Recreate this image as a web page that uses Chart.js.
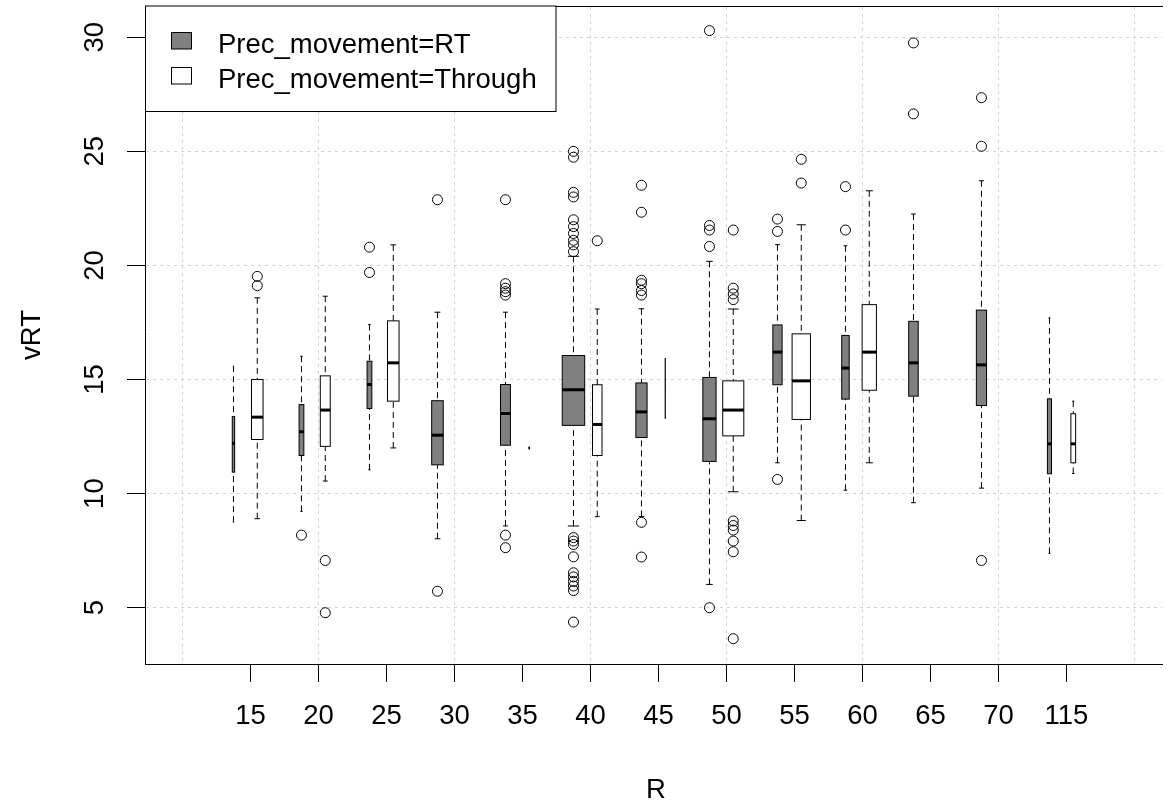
<!DOCTYPE html>
<html>
<head>
<meta charset="utf-8">
<script src="https://cdn.jsdelivr.net/npm/chart.js@4.4.1/dist/chart.umd.min.js"></script>
<style>
    html, body { margin: 0; padding: 0; background: #fff; overflow: hidden; }
    #wrap { width: 1168px; height: 801px; }
</style>
</head>
<body>
<div id="wrap"><canvas id="graph" width="1168" height="801"></canvas></div>
<script>
// groups on the x axis (R values)
var rLabels = ["15", "20", "25", "30", "35", "40", "45", "50", "55", "60", "65", "70", "115"]
var seriesNames = ["Prec_movement=RT", "Prec_movement=Through"]
var yTicks = [5, 10, 15, 20, 25, 30]
var gridX = [0, 2, 4, 6, 8, 10, 12, 14]

// Prec_movement = RT
var rtLow = [8.75, 9.22, 11.04, 8.02, 8.58, 8.58, 9.0, 6.02, 11.35, 10.15, 9.6, 10.24, 7.38]
var rtQ1 = [10.94, 11.67, 13.73, 11.26, 12.12, 12.99, 12.46, 11.41, 14.77, 14.14, 14.27, 13.86, 10.87]
var rtMedian = [12.2, 12.71, 14.78, 12.56, 13.51, 14.55, 13.58, 13.28, 16.2, 15.5, 15.73, 15.64, 12.18]
var rtQ3 = [13.38, 13.9, 15.8, 14.07, 14.78, 16.05, 14.85, 15.09, 17.39, 16.93, 17.55, 18.04, 14.15]
var rtHigh = [15.58, 16.02, 17.41, 17.95, 17.95, 20.4, 18.1, 20.18, 20.91, 20.86, 22.25, 23.71, 17.7]
var rtWidth = [0.035, 0.07, 0.07, 0.17, 0.146, 0.33, 0.165, 0.195, 0.136, 0.11, 0.14, 0.15, 0.06]
var rtOutliers = [
    [],
    [8.18],
    [20.8, 19.69],
    [22.88, 5.72],
    [22.88, 19.2, 19.0, 18.85, 18.7, 8.18, 7.63],
    [25.0, 24.74, 23.2, 23.0, 22.0, 21.7, 21.4, 21.1, 20.9, 20.6, 8.07, 7.92, 7.77, 7.23, 6.53, 6.35, 6.15, 5.95, 5.75, 4.37],
    [23.51, 22.33, 19.35, 19.2, 18.9, 18.7, 8.74, 7.22],
    [30.29, 21.75, 21.55, 20.83, 5.0],
    [22.03, 21.49, 10.62],
    [23.45, 21.55],
    [29.75, 26.64],
    [27.35, 25.22, 7.07],
    []
]

// Prec_movement = Through
var thLow = [8.9, 10.55, 12.0, null, 12.0, 8.99, 13.3, 10.08, 8.82, 11.35, null, null, 10.88]
var thQ1 = [12.37, 12.07, 14.05, null, 12.0, 11.67, 13.3, 12.53, 13.25, 14.53, null, null, 11.35]
var thMedian = [13.35, 13.66, 15.73, null, 12.0, 13.03, 14.6, 13.66, 14.94, 16.2, null, null, 12.18]
var thQ3 = [15.0, 15.16, 17.57, null, 12.0, 14.77, 15.92, 14.94, 17.0, 18.28, null, null, 13.5]
var thHigh = [18.58, 18.65, 20.9, null, 12.0, 18.09, 15.92, 18.09, 21.78, 23.27, null, null, 14.05]
var thWidth = [0.17, 0.146, 0.17, null, 0.02, 0.14, 0.003, 0.31, 0.27, 0.21, null, null, 0.07]
var thOutliers = [
    [19.52, 19.11],
    [7.07, 4.78],
    [],
    [],
    [],
    [21.08],
    [],
    [21.55, 19.0, 18.75, 18.5, 8.8, 8.6, 8.4, 7.92, 7.45, 3.64],
    [24.65, 23.61],
    [],
    [],
    [],
    []
]

var FONT = '"Liberation Sans", Arial, sans-serif'
var FSIZE = 27.5

var series = [
    { low: rtLow, q1: rtQ1, med: rtMedian, q3: rtQ3, high: rtHigh, width: rtWidth, offset: -0.25, fill: "#808080" },
    { low: thLow, q1: thQ1, med: thMedian, q3: thQ3, high: thHigh, width: thWidth, offset: 0.1, fill: "#ffffff" }
]

// turns the outlier lists into scatter points
function outlierPoints(list, offset) {
    var pts = []
    list.forEach(function (vals, i) {
        vals.forEach(function (v) { pts.push({ x: i + 1 + offset, y: v }) })
    })
    return pts
}

function line(ctx, x1, y1, x2, y2) {
    ctx.beginPath()
    ctx.moveTo(x1, y1)
    ctx.lineTo(x2, y2)
    ctx.stroke()
}

// no extra room for labels at the ends of the x axes
function noSidePadding(s) {
    s.paddingLeft = 0
    s.paddingRight = 0
}

// draws the boxes, whiskers and medians with the chart scales
var boxPlugin = {
    id: "rBoxes",
    beforeDatasetsDraw: function (chart) {
        var ctx = chart.ctx
        var xs = chart.scales.x
        var ys = chart.scales.y
        ctx.save()
        ctx.strokeStyle = "#000"
        series.forEach(function (s) {
            for (var i = 0; i < rLabels.length; i++) {
                if (s.med[i] == null) continue
                var pos = i + 1 + s.offset
                var w = s.width[i]
                var mid = xs.getPixelForValue(pos)
                var left = xs.getPixelForValue(pos - w / 2)
                var right = xs.getPixelForValue(pos + w / 2)
                var capL = xs.getPixelForValue(pos - w / 4)
                var capR = xs.getPixelForValue(pos + w / 4)
                var yLow = ys.getPixelForValue(s.low[i])
                var yQ1 = ys.getPixelForValue(s.q1[i])
                var yMed = ys.getPixelForValue(s.med[i])
                var yQ3 = ys.getPixelForValue(s.q3[i])
                var yHigh = ys.getPixelForValue(s.high[i])

                // whiskers
                ctx.lineWidth = 1
                ctx.setLineDash([6, 4])
                if (s.high[i] > s.q3[i]) line(ctx, mid, yHigh, mid, yQ3)
                if (s.low[i] < s.q1[i]) line(ctx, mid, yLow, mid, yQ1)
                ctx.setLineDash([])
                line(ctx, capL, yHigh, capR, yHigh)
                line(ctx, capL, yLow, capR, yLow)

                // box
                ctx.fillStyle = s.fill
                ctx.fillRect(left, yQ3, right - left, yQ1 - yQ3)
                ctx.strokeRect(left, yQ3, right - left, yQ1 - yQ3)

                // median
                ctx.lineWidth = 3
                line(ctx, left, yMed, right, yMed)
            }
        })
        ctx.restore()
    },
    afterDraw: function (chart) {
        var ctx = chart.ctx
        var ys = chart.scales.y
        var area = chart.chartArea
        ctx.save()
        ctx.fillStyle = "#000"
        ctx.font = FSIZE + "px " + FONT

        // y tick labels, turned like R does
        yTicks.forEach(function (v) {
            ctx.save()
            ctx.translate(103, ys.getPixelForValue(v))
            ctx.rotate(-Math.PI / 2)
            ctx.textAlign = "center"
            ctx.textBaseline = "alphabetic"
            ctx.fillText(String(v), 0, 0)
            ctx.restore()
        })

        // axis titles
        ctx.save()
        ctx.translate(40, (area.top + area.bottom) / 2)
        ctx.rotate(-Math.PI / 2)
        ctx.textAlign = "center"
        ctx.fillText("vRT", 0, 0)
        ctx.restore()

        ctx.textAlign = "center"
        ctx.fillText("R", 656, 798)

        // legend
        ctx.fillStyle = "#fff"
        ctx.fillRect(area.left, area.top, 410.5, 105.5)
        ctx.lineWidth = 1
        ctx.strokeStyle = "#000"
        ctx.strokeRect(area.left + 0.5, area.top, 410.5, 105.5)
        var fills = [series[0].fill, series[1].fill]
        var baselines = [53, 88]
        seriesNames.forEach(function (name, i) {
            ctx.fillStyle = fills[i]
            ctx.fillRect(171.5, baselines[i] - 20.5, 20, 16.5)
            ctx.strokeRect(171.5, baselines[i] - 20.5, 20, 16.5)
            ctx.fillStyle = "#000"
            ctx.textAlign = "left"
            ctx.fillText(name, 218, baselines[i])
        })
        ctx.restore()
    }
}

var data = {
    datasets: [
        { label: seriesNames[0], data: outlierPoints(rtOutliers, -0.25) },
        { label: seriesNames[1], data: outlierPoints(thOutliers, 0.1) }
    ]
}
data.datasets.forEach(function (d) {
    d.pointStyle = "circle"
    d.pointRadius = 5
    d.pointHoverRadius = 5
    d.pointBorderWidth = 1
    d.borderColor = "#000"
    d.backgroundColor = "rgba(0,0,0,0)"
})

var options = {
    responsive: false,
    animation: false,
    events: [],
    layout: { padding: 0 },
    plugins: { legend: { display: false }, tooltip: { enabled: false } },
    scales: {
        x: {
            type: "linear",
            position: "bottom",
            min: -0.551,
            max: 14.405,
            afterBuildTicks: function (s) {
                s.ticks = rLabels.map(function (l, i) { return { value: i + 1 } })
            },
            afterFit: function (s) {
                s.height = 137
                noSidePadding(s)
            },
            ticks: {
                autoSkip: false,
                maxRotation: 0,
                minRotation: 0,
                padding: 18,
                color: "#000",
                font: { family: FONT, size: FSIZE },
                callback: function (v) { return rLabels[v - 1] }
            },
            grid: { drawOnChartArea: false, tickColor: "#000", tickLength: 18, tickWidth: 1 },
            border: { color: "#000", width: 1 }
        },
        xGrid: {
            type: "linear",
            position: "top",
            min: -0.551,
            max: 14.405,
            afterBuildTicks: function (s) {
                s.ticks = gridX.map(function (v) { return { value: v } })
            },
            afterFit: function (s) {
                s.height = 5.5
                noSidePadding(s)
            },
            ticks: { display: false },
            grid: { drawTicks: false, color: "#d3d3d3", lineWidth: 1 },
            border: { color: "#000", width: 1, dash: [3, 4] }
        },
        y: {
            type: "linear",
            min: 2.532,
            max: 31.368,
            afterBuildTicks: function (s) {
                s.ticks = yTicks.map(function (v) { return { value: v } })
            },
            afterFit: function (s) { s.width = 145 },
            ticks: { display: false },
            grid: { color: "#d3d3d3", lineWidth: 1, tickColor: "#000", tickLength: 18, tickWidth: 1 },
            border: { color: "#000", width: 1, dash: [3, 4] }
        }
    }
}

var config = {
    type: "scatter",
    data: data,
    options: options,
    plugins: [boxPlugin]
}

var graph = new Chart(document.getElementById("graph"), config)
</script>
</body>
</html>
